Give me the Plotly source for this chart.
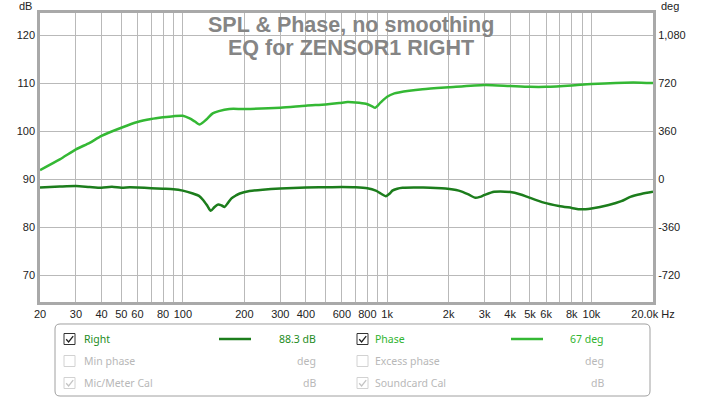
import plotly.graph_objects as go
import math

# ---------------- data ----------------
spl_freq = [20, 25, 30, 35, 40, 45, 50, 55, 60, 70, 80, 90, 100, 112, 120, 126, 132, 137,
            143, 149, 155, 160, 166, 173, 182, 190, 212, 246, 300, 400, 500, 600, 700, 800,
            880, 930, 985, 1030, 1060, 1120, 1190, 1500, 1930, 2240, 2500, 2700, 2850, 3000,
            3340, 4000, 4500, 4860, 5850, 6930, 8000, 8840, 10000, 12140, 14000, 15490,
            17500, 20000]
spl_db = [88.27, 88.45, 88.55, 88.35, 88.2, 88.4, 88.2, 88.3, 88.25, 88.1, 88.0, 87.9, 87.6,
          87.0, 86.5, 85.6, 84.4, 83.4, 84.2, 84.7, 84.5, 84.2, 85.0, 86.0, 86.6, 87.0, 87.5,
          87.8, 88.06, 88.27, 88.3, 88.35, 88.3, 88.1, 87.6, 87.0, 86.45, 87.0, 87.6, 88.0,
          88.2, 88.25, 88.05, 87.6, 86.8, 86.1, 86.3, 86.7, 87.35, 87.3, 86.8, 86.3, 85.1,
          84.4, 84.0, 83.7, 83.9, 84.6, 85.4, 86.3, 86.9, 87.35]

ph_freq = [20, 25, 30, 35, 40, 50, 60, 70, 80, 90, 100, 108, 115, 121, 130, 140, 150, 169,
           200, 300, 400, 500, 583, 640, 700, 787, 840, 874, 930, 1000, 1085, 1140, 1490,
           2000, 3000, 4000, 5000, 6000, 8000, 10000, 16000, 20000]
ph_deg = [68, 148, 223, 272, 324, 385, 428, 450, 463, 472, 475, 455, 430, 410, 445, 493, 510,
          526, 526, 535, 551, 560, 570, 578, 575, 565, 548, 535, 575, 618, 643, 650, 673, 688,
          706, 698, 692, 692, 702, 713, 725, 720]

grid_freqs = [20, 30, 40, 50, 60, 70, 80, 90, 100, 200, 300, 400, 500, 600, 700, 800, 900,
              1000, 2000, 3000, 4000, 5000, 6000, 7000, 8000, 9000, 10000, 20000]
grid_text = ["20", "30", "40", "50", "60", "", "80", "", "100", "200", "300", "400", "", "600",
             "", "800", "", "1k", "2k", "3k", "4k", "5k", "6k", "", "8k", "", "10k", "20.0k Hz"]

db_ticks = [70, 80, 90, 100, 110, 120]
deg_ticks = [-720, -360, 0, 360, 720, 1080]
deg_text = ["-720", "-360", "0", "360", "720", "1,080"]

# ---------------- geometry helpers ----------------
W, H = 703, 398
L, R, T, B = 40, 653, 13, 302


def px(X):
    return (X - L) / (R - L)


def py(Y):
    return (B - Y) / (B - T)


db_lo, db_hi = 64.4, 124.6
deg_lo, deg_hi = (db_lo - 90) * 36, (db_hi - 90) * 36

SPL_COL = "rgb(28,125,28)"
PH_COL = "rgb(52,184,52)"
GRID = "#b9b9b9"

fig = go.Figure()
fig.add_trace(go.Scatter(x=spl_freq, y=spl_db, mode="lines", yaxis="y",
                         line=dict(color=SPL_COL, width=2.5, shape="spline", smoothing=0.7),
                         showlegend=False, hoverinfo="skip"))
fig.add_trace(go.Scatter(x=ph_freq, y=ph_deg, mode="lines", yaxis="y2",
                         line=dict(color=PH_COL, width=2.5, shape="spline", smoothing=0.7),
                         showlegend=False, hoverinfo="skip"))

tick_font = dict(family="Liberation Sans, Arial, sans-serif", size=11, color="#222222")

fig.update_layout(
    width=W, height=H,
    margin=dict(l=L, r=W - R, t=T, b=H - B, pad=0, autoexpand=False),
    paper_bgcolor="white", plot_bgcolor="white",
    xaxis=dict(type="log", range=[math.log10(20), math.log10(20000)],
               domain=[0, 1], tickmode="array", tickvals=grid_freqs, automargin=False,
               ticktext=grid_text, showgrid=True, gridcolor=GRID, gridwidth=1,
               showline=True, linecolor="#a9a9a9", linewidth=2.5, mirror=True,
               ticks="", tickfont=tick_font, zeroline=False, fixedrange=True),
    yaxis=dict(range=[db_lo, db_hi], domain=[0, 1], tickmode="array", automargin=False,
               tickvals=db_ticks, showgrid=True, gridcolor=GRID, gridwidth=1,
               showline=True, linecolor="#a9a9a9", linewidth=2.5, mirror=True,
               ticks="", tickfont=tick_font, zeroline=False, fixedrange=True),
    yaxis2=dict(range=[deg_lo, deg_hi], overlaying="y", side="right", anchor="x",
                tickmode="array", tickvals=deg_ticks, ticktext=deg_text, automargin=False,
                showgrid=False, zeroline=False, ticks="outside", ticklen=2,
                tickcolor="rgba(0,0,0,0)", tickfont=tick_font, fixedrange=True),
)

ann = []
title_font = dict(family="Liberation Sans, Arial, sans-serif", size=21.5, color="#858585")
ann.append(dict(x=px(351), y=py(25), xref="paper", yref="paper", showarrow=False,
                text="<b>SPL &amp; Phase, no smoothing</b>", font=title_font,
                xanchor="center", yanchor="middle"))
ann.append(dict(x=px(351), y=py(48), xref="paper", yref="paper", showarrow=False,
                text="<b>EQ for ZENSOR1 RIGHT</b>", font=title_font,
                xanchor="center", yanchor="middle"))
ann.append(dict(x=px(34), y=py(6), xref="paper", yref="paper", showarrow=False, text="dB",
                font=tick_font, xanchor="right", yanchor="middle"))
ann.append(dict(x=px(659), y=py(6), xref="paper", yref="paper", showarrow=False, text="deg",
                font=tick_font, xanchor="left", yanchor="middle"))

shapes = []


def rounded_rect(x0, y0, x1, y1, r):
    def P(X, Y):
        return f"{px(X):.5f},{py(Y):.5f}"
    return ("M " + P(x0 + r, y0) + " L " + P(x1 - r, y0) + " Q " + P(x1, y0) + " " + P(x1, y0 + r) +
            " L " + P(x1, y1 - r) + " Q " + P(x1, y1) + " " + P(x1 - r, y1) +
            " L " + P(x0 + r, y1) + " Q " + P(x0, y1) + " " + P(x0, y1 - r) +
            " L " + P(x0, y0 + r) + " Q " + P(x0, y0) + " " + P(x0 + r, y0) + " Z")


shapes.append(dict(type="path", xref="paper", yref="paper",
                   path=rounded_rect(55, 324, 650, 396, 5),
                   line=dict(color="#a0a0a0", width=1), fillcolor="rgba(0,0,0,0)"))

leg_font = "Noto Sans, Open Sans, sans-serif"
GREY_TXT = "#b8b8b8"
rows = [
    ("Right", "88.3 dB", True, True, "rgb(34,140,34)", 0, 339, SPL_COL),
    ("Phase", "67 deg", True, True, "rgb(48,180,48)", 1, 339, PH_COL),
    ("Min phase", "deg", False, False, GREY_TXT, 0, 361, None),
    ("Excess phase", "deg", False, False, GREY_TXT, 1, 361, None),
    ("Mic/Meter Cal", "dB", True, False, GREY_TXT, 0, 383, None),
    ("Soundcard Cal", "dB", True, False, GREY_TXT, 1, 383, None),
]
col_box = [64, 357]
col_text = [82, 373]
col_val = [318, 606]
col_line = [(219, 251), (511, 543)]

for label, val, checked, enabled, tcol, c, yc, lcol in rows:
    bx = col_box[c]
    s = 11
    y0 = yc - s / 2
    shapes.append(dict(type="rect", xref="paper", yref="paper",
                       x0=px(bx), x1=px(bx + s), y0=py(y0 + s), y1=py(y0),
                       line=dict(color="#333333" if enabled else "#d2d2d2", width=1),
                       fillcolor="white"))
    if checked:
        path = ("M {:.5f},{:.5f} L {:.5f},{:.5f} L {:.5f},{:.5f}".format(
            px(bx + 2.2), py(y0 + 5.8), px(bx + 4.6), py(y0 + 8.4), px(bx + 9.2), py(y0 + 2.6)))
        shapes.append(dict(type="path", xref="paper", yref="paper", path=path,
                           line=dict(color="#222222" if enabled else "#c4c4c4", width=1.3)))
    ann.append(dict(x=px(col_text[c]), y=py(yc), xref="paper", yref="paper", showarrow=False,
                    text=label, font=dict(family=leg_font, size=10.5, color=tcol),
                    xanchor="left", yanchor="middle"))
    ann.append(dict(x=px(col_val[c]), y=py(yc), xref="paper", yref="paper", showarrow=False,
                    text=val, font=dict(family=leg_font, size=10.5, color=tcol),
                    xanchor="right", yanchor="middle"))
    if lcol:
        lx0, lx1 = col_line[c]
        shapes.append(dict(type="line", xref="paper", yref="paper",
                           x0=px(lx0), x1=px(lx1), y0=py(yc), y1=py(yc),
                           line=dict(color=lcol, width=2.5)))

fig.update_layout(annotations=ann, shapes=shapes)
fig.write_html("out.html", config={"displayModeBar": False},
               post_script="document.body.style.margin='0';document.body.style.overflow='hidden';")
